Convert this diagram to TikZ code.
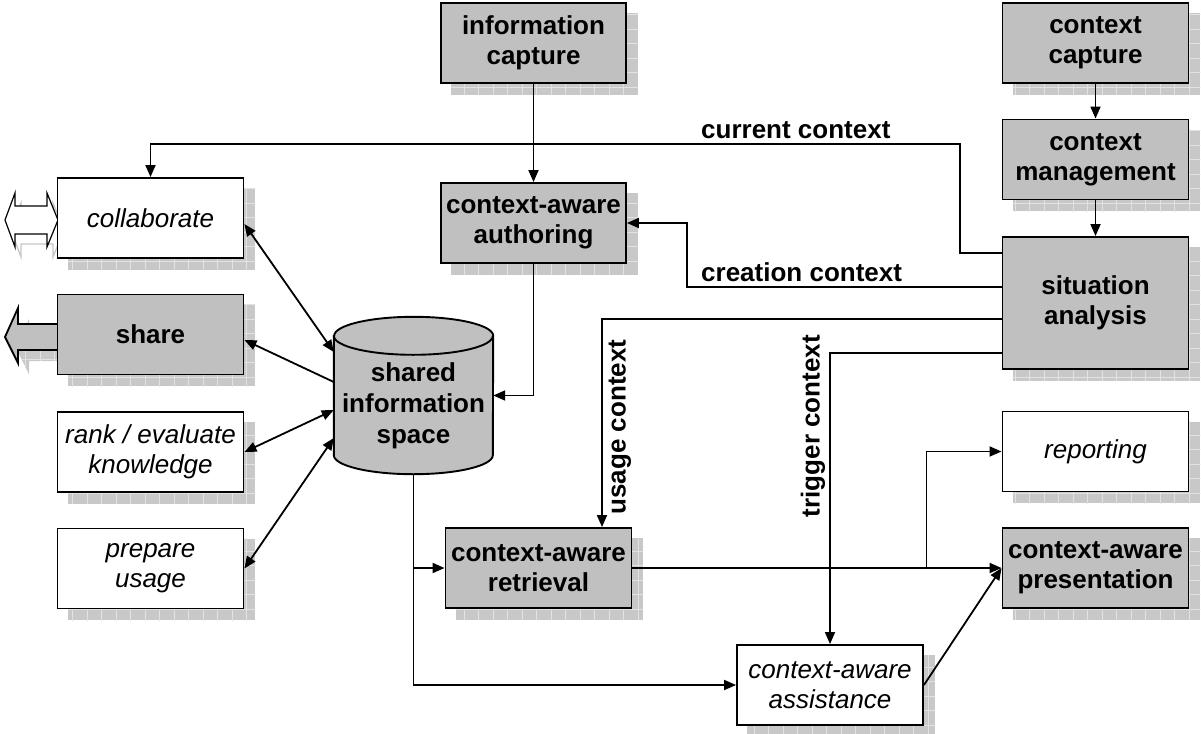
\documentclass[tikz,border=0pt]{standalone}
\usepackage{fontspec}
\setmainfont{Liberation Sans}
\usetikzlibrary{arrows.meta,calc,backgrounds}
\definecolor{boxgrey}{RGB}{192,192,192}
\definecolor{shadegrey}{RGB}{200,200,200}
\definecolor{gridgrey}{RGB}{226,226,226}
\tikzset{
  box/.style={draw=black, line width=1.9pt, minimum width=186pt, minimum height=80pt,
    inner sep=0pt, align=center},
  greybox/.style={box, fill=boxgrey, font=\fontsize{26pt}{30pt}\selectfont\bfseries},
  whitebox/.style={box, fill=white, font=\fontsize{26pt}{30pt}\selectfont\itshape},
  conn/.style={line width=1.8pt, -{Triangle[length=12pt,width=10pt]}},
  biconn/.style={line width=1.8pt, {Triangle[length=12pt,width=10pt]}-{Triangle[length=12pt,width=10pt]}},
  lbl/.style={font=\fontsize{26pt}{30pt}\selectfont\bfseries, inner sep=0pt},
  shadowfill/.style={fill=shadegrey},
  shadowgrid/.style={draw=gridgrey, line width=0.9pt},
}
\begin{document}
\begin{tikzpicture}[x=1pt,y=-1pt]
\useasboundingbox (0,0) rectangle (1201,733);

% block arrows at the left
\draw[fill=white, line width=1.2pt] (5,220) -- (15,193) -- (15,206) -- (47,206) -- (47,193) -- (58,220)
  -- (47,247) -- (47,234) -- (15,234) -- (15,247) -- cycle;
\draw[fill=boxgrey, line width=1.8pt] (5,337) -- (18,308) -- (18,324) -- (58,324) -- (58,350)
  -- (18,350) -- (18,363) -- cycle;

% boxes
\node[greybox, minimum width=185pt] (ic) at (533.5,43) {information\\capture};
\node[greybox] (cc) at (1095.5,43) {context\\capture};
\node[greybox] (cm) at (1095.5,159.5) {context\\management};
\node[greybox, minimum height=132pt] (sa) at (1095.5,303) {situation\\analysis};
\node[greybox, minimum width=185pt] (auth) at (533.5,223) {context-aware\\authoring};
\node[whitebox] (collab) at (150.5,218) {collaborate};
\node[greybox] (share) at (150.5,334.5) {share};
\node[whitebox] (rank) at (150.5,452) {rank / evaluate\\knowledge};
\node[whitebox] (prep) at (150.5,568.5) {prepare\\usage};
\node[whitebox] (rep) at (1095.5,451.5) {reporting};
\node[greybox] (pres) at (1095.5,568) {context-aware\\presentation};
\node[greybox] (retr) at (538.5,568) {context-aware\\retrieval};
\node[whitebox] (asst) at (830,685) {context-aware\\assistance};

% shared information space (cylinder)
\node[minimum width=159pt, minimum height=157pt, inner sep=0pt] (sis) at (413.5,395.5) {};
\path[fill=boxgrey, draw=black, line width=1.9pt]
  ($(sis.north west)+(0,19)$) -- ($(sis.south west)+(0,-19)$)
  arc[start angle=180, end angle=360, x radius=79.5pt, y radius=19pt]
  -- ($(sis.north east)+(0,19)$)
  arc[start angle=0, end angle=180, x radius=79.5pt, y radius=19pt] -- cycle;
\draw[line width=1.9pt] ($(sis.north west)+(0,19)$)
  arc[start angle=180, end angle=360, x radius=79.5pt, y radius=19pt];
\node[lbl, align=center, font=\fontsize{26pt}{31pt}\selectfont\bfseries] (sislbl)
  at ($(sis.center)+(0,10)$) {shared\\information\\space};

% connectors
\draw[conn] (ic.south) -- (auth.north);
\draw[conn] (cc.south) -- (cm.north);
\draw[conn] (cm.south) -- (sa.north);
\draw[conn] (sa.west |- 0,253) -| (960,144) -| (collab.north);
\draw[conn] (sa.west |- 0,287) -| ($(auth.east)+(60,0)$) -- (auth.east);
\draw[conn] (sa.west |- 0,319) -| ($(retr.north)+(63.5,0)$);
\draw[conn] (sa.west |- 0,353) -| (asst.north);
\draw[conn] (auth.south) |- (sis.east);
\draw[conn] (sis.south) |- (retr.west);
\draw[conn] (sis.south) |- (asst.west);
\draw[conn] (retr.east) -- (pres.west);
\coordinate (branch) at ($(pres.west)+(-75,0)$);
\draw[conn] (branch) |- (rep.west);
\draw[conn] (asst.east) -- (pres.west);
\draw[biconn] ([yshift=-6pt]collab.east) -- ([yshift=43.5pt]sis.west);
\draw[conn] ([yshift=13.5pt]sis.west) -- ([yshift=-5.5pt]share.east);
\draw[biconn] (rank.east) -- ([yshift=-14.5pt]sis.west);
\draw[biconn] (prep.east) -- ([yshift=-42.5pt]sis.west);

% labels
\node[lbl, anchor=base west] (lcur) at (701,139) {current context};
\node[lbl, anchor=base west] (lcre) at (701,281) {creation context};
\node[lbl, rotate=90] (luse) at (620,427) {usage context};
\node[lbl, rotate=90] (ltrg) at (813,426) {trigger context};

% background: page and shadows
\begin{scope}[on background layer]
  \fill[white] (0,0) rectangle (1201,733);
  \foreach \nm in {ic,cc,cm,sa,auth,collab,share,rank,prep,rep,pres,retr,asst} {
    \begin{scope}
      \clip ($(\nm.north west)+(11,11)$) rectangle ($(\nm.south east)+(11,11)$);
      \fill[shadowfill] ($(\nm.north west)+(11,11)$) rectangle ($(\nm.south east)+(11,11)$);
      \draw[shadowgrid, step=14.5pt] ($(\nm.south west)+(0,22)$) grid ($(\nm.north east)+(22,0)$);
    \end{scope}
  }
  \begin{scope}[shift={(11,11)}]
    \clip ($(sis.north west)+(0,19)$) -- ($(sis.south west)+(0,-19)$)
      arc[start angle=180, end angle=360, x radius=79.5pt, y radius=19pt]
      -- ($(sis.north east)+(0,19)$)
      arc[start angle=0, end angle=180, x radius=79.5pt, y radius=19pt] -- cycle;
    \fill[shadowfill] ($(sis.north west)+(-5,-5)$) rectangle ($(sis.south east)+(5,5)$);
    \draw[shadowgrid, step=14.5pt] ($(sis.south west)+(-5,5)$) grid ($(sis.north east)+(5,-5)$);
  \end{scope}
  \begin{scope}[shift={(11,11)}]
    \clip (5,337) -- (18,308) -- (18,324) -- (58,324) -- (58,350) -- (18,350) -- (18,363) -- cycle;
    \fill[shadowfill] (0,300) rectangle (60,370);
    \draw[shadowgrid, step=14.5pt] (0,370) grid (60,300);
  \end{scope}
  \begin{scope}[shift={(6,10)}]
    \draw[fill=white, draw=gray!45, line width=1.2pt] (5,220) -- (15,193) -- (15,206) -- (47,206) -- (47,193) -- (58,220)
      -- (47,247) -- (47,234) -- (15,234) -- (15,247) -- cycle;
  \end{scope}
\end{scope}
\end{tikzpicture}
\end{document}
